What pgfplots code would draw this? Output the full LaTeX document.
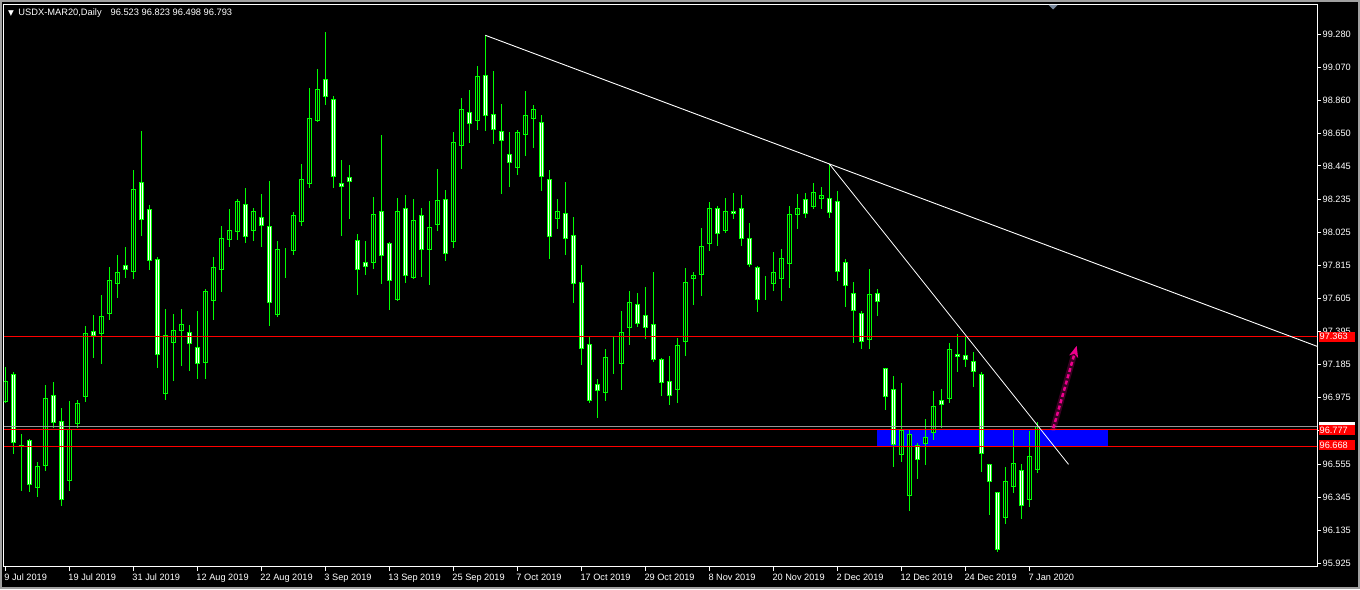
\documentclass[border=0pt]{standalone}
\usepackage{pgfplots}
\pgfplotsset{compat=1.18}
\usepackage{pgfplotstable}
\usepackage{fontspec}
\setmainfont{Liberation Sans}
\newfontfamily\dejavu{DejaVu Sans}
\usetikzlibrary{arrows.meta}
\definecolor{mtgreen}{RGB}{0,255,0}
\definecolor{mtgray}{RGB}{160,160,160}
\definecolor{bidgray}{RGB}{150,150,150}
\definecolor{shiftgray}{RGB}{120,135,155}

\pgfplotstableread{
i o h l c
0 96.950 97.171 96.942 97.077
1 97.120 97.137 96.617 96.693
2 96.673 96.746 96.386 96.666
3 96.703 96.714 96.380 96.427
4 96.408 96.570 96.348 96.541
5 96.547 97.056 96.513 96.972
6 96.991 97.075 96.782 96.820
7 96.824 96.910 96.291 96.331
8 96.449 96.955 96.386 96.771
9 96.811 96.961 96.782 96.940
10 96.982 97.431 96.950 97.384
11 97.397 97.500 97.229 97.369
12 97.382 97.627 97.191 97.492
13 97.511 97.805 97.469 97.720
14 97.699 97.881 97.610 97.771
15 97.815 97.932 97.737 97.790
16 97.775 98.420 97.731 98.297
17 98.342 98.667 98.003 98.107
18 98.171 98.198 97.786 97.847
19 97.854 97.868 97.166 97.251
20 97.004 97.538 96.963 97.372
21 97.325 97.507 97.084 97.403
22 97.401 97.538 97.179 97.441
23 97.391 97.437 97.147 97.321
24 97.295 97.526 97.096 97.194
25 97.200 97.665 97.096 97.651
26 97.594 97.868 97.471 97.803
27 97.790 98.065 97.648 97.987
28 97.980 98.173 97.933 98.037
29 98.031 98.236 97.978 98.221
30 98.202 98.306 97.959 97.999
31 98.037 98.179 97.972 98.158
32 98.120 98.268 97.933 98.069
33 98.063 98.350 97.432 97.581
34 97.505 97.970 97.490 97.917
35 97.895 97.925 97.737 97.895
36 97.911 98.154 97.883 98.133
37 98.095 98.458 98.067 98.361
38 98.336 98.938 98.308 98.748
39 98.733 99.060 98.726 98.932
40 98.995 99.295 98.832 98.885
41 98.868 98.889 98.308 98.379
42 98.336 98.483 98.003 98.317
43 98.374 98.452 98.111 98.348
44 97.974 98.014 97.627 97.790
45 97.835 97.970 97.754 97.807
46 97.835 98.249 97.794 98.139
47 98.158 98.642 97.699 97.879
48 97.955 97.963 97.534 97.720
49 97.600 98.242 97.591 98.158
50 98.177 98.261 97.705 97.752
51 97.739 98.236 97.731 98.101
52 98.133 98.179 97.743 97.917
53 97.917 98.223 97.692 98.056
54 98.075 98.426 98.035 98.228
55 98.234 98.293 97.845 97.892
56 97.968 98.661 97.927 98.596
57 98.577 98.877 98.428 98.805
58 98.786 98.927 98.593 98.716
59 98.735 99.079 98.675 99.014
60 99.020 99.274 98.669 98.767
61 98.773 99.048 98.587 98.678
62 98.665 98.838 98.270 98.608
63 98.519 98.661 98.314 98.469
64 98.437 98.674 98.390 98.659
65 98.646 98.921 98.511 98.767
66 98.748 98.832 98.561 98.805
67 98.722 98.767 98.289 98.380
68 98.361 98.418 97.857 97.999
69 98.114 98.234 98.048 98.158
70 98.145 98.342 97.883 97.987
71 98.006 98.120 97.578 97.701
72 97.708 97.815 97.185 97.289
73 97.314 97.365 96.944 96.959
74 97.061 97.094 96.849 97.023
75 97.010 97.283 96.957 97.232
76 97.213 97.365 97.128 97.213
77 97.194 97.524 97.027 97.391
78 97.422 97.651 97.312 97.581
79 97.568 97.638 97.422 97.448
80 97.498 97.678 97.350 97.422
81 97.441 97.771 97.200 97.219
82 97.219 97.225 96.989 97.073
83 97.080 97.240 96.931 96.991
84 97.029 97.354 96.944 97.308
85 97.334 97.798 97.242 97.708
86 97.733 97.771 97.566 97.752
87 97.756 98.050 97.623 97.936
88 97.955 98.215 97.908 98.177
89 98.177 98.190 97.940 98.018
90 98.035 98.240 98.022 98.158
91 98.158 98.272 98.107 98.145
92 98.177 98.259 97.940 97.987
93 97.987 98.082 97.803 97.822
94 97.803 97.809 97.521 97.600
95 97.680 97.746 97.597 97.680
96 97.701 97.898 97.654 97.771
97 97.733 97.917 97.591 97.860
98 97.828 98.190 97.673 98.139
99 98.139 98.266 98.048 98.177
100 98.234 98.272 98.117 98.145
101 98.190 98.336 98.171 98.278
102 98.240 98.310 98.171 98.259
103 98.240 98.458 98.117 98.152
104 98.221 98.285 97.718 97.777
105 97.835 97.854 97.553 97.689
106 97.638 97.708 97.325 97.530
107 97.511 97.524 97.287 97.334
108 97.346 97.790 97.287 97.632
109 97.638 97.663 97.496 97.587
110 97.162 97.165 96.898 96.982
111 97.029 97.113 96.538 96.680
112 96.614 97.069 96.570 96.769
113 96.357 96.769 96.259 96.744
114 96.671 96.687 96.462 96.585
115 96.687 96.841 96.551 96.725
116 96.756 97.020 96.708 96.921
117 96.959 97.029 96.782 96.934
118 96.972 97.321 96.944 97.283
119 97.251 97.380 97.141 97.238
120 97.245 97.359 97.169 97.219
121 97.207 97.266 97.046 97.143
122 97.124 97.137 96.507 96.623
123 96.553 96.556 96.234 96.446
124 96.376 96.379 95.995 96.014
125 96.217 96.536 96.173 96.446
126 96.414 96.771 96.370 96.560
127 96.515 96.553 96.205 96.293
128 96.331 96.765 96.281 96.604
129 96.523 96.823 96.498 96.793
}\candles

\pgfplotsset{
  mtbase/.style={
    at={(4pt,22pt)}, anchor=south west, scale only axis,
    width=1313pt, height=562pt,
    xmin=-0.16, xmax=163.96, ymin=95.902, ymax=99.466,
  }
}

\begin{document}
\fontsize{9}{10}\selectfont
\begin{tikzpicture}[x=1pt,y=1pt]
\useasboundingbox (0,0) rectangle (1360,589);
\fill[black] (0,0) rectangle (1360,589);
\draw[mtgray, line width=2pt] (1,1) rectangle (1359,588);

% background axis: frame, ticks, blue zone
\begin{axis}[mtbase,
  axis line style={white, line width=1pt},
  tick style={white, line width=1pt},
  tick align=outside, major tick length=4pt,
  xtick pos=left, ytick pos=right,
  xticklabel pos=left, yticklabel pos=right,
  xtick={0,8,...,128},
  xticklabels={9 Jul 2019, 19 Jul 2019, 31 Jul 2019, 12 Aug 2019, 22 Aug 2019, 3 Sep 2019, 13 Sep 2019, 25 Sep 2019, 7 Oct 2019, 17 Oct 2019, 29 Oct 2019, 8 Nov 2019, 20 Nov 2019, 2 Dec 2019, 12 Dec 2019, 24 Dec 2019, 7 Jan 2020},
  ytick={99.280,99.070,98.860,98.650,98.445,98.235,98.025,97.815,97.605,97.395,97.185,96.975,96.765,96.555,96.345,96.135,95.925},
  yticklabels={99.280,99.070,98.860,98.650,98.445,98.235,98.025,97.815,97.605,97.395,97.185,96.975,96.765,96.555,96.345,96.135,95.925},
  ticklabel style={font=\fontsize{9.2}{10}\selectfont, text=white, inner sep=0pt},
  xticklabel style={anchor=north west, xshift=-1pt, yshift=-3pt},
  yticklabel style={anchor=west, xshift=1.5pt},
]
\addplot[fill=blue, draw=none] coordinates {(108.96,96.668) (137.8,96.668) (137.8,96.777) (108.96,96.777)} -- cycle;
\end{axis}

% candles
\begin{axis}[mtbase, hide axis, ybar stacked, bar width=0.55]
\addplot[draw=none, fill=none,
  error bars/.cd, y dir=both, y explicit, error mark=none,
  error bar style={draw=mtgreen, line width=1pt, solid}]
  table[x=i, y expr={min(\thisrow{o},\thisrow{c})},
        y error plus expr={\thisrow{h}-min(\thisrow{o},\thisrow{c})},
        y error minus expr={min(\thisrow{o},\thisrow{c})-\thisrow{l}}] {\candles};
\addplot[draw=mtgreen, fill=white, line width=1pt]
  table[x=i, y expr={max(\thisrow{o}-\thisrow{c},0)}] {\candles};
\addplot[draw=mtgreen, fill=black, line width=1pt]
  table[x=i, y expr={max(\thisrow{c}-\thisrow{o},0)}] {\candles};
\end{axis}

% overlays: lines, trend lines, arrow, price labels
\begin{axis}[mtbase, hide axis, clip mode=individual]
\addplot[bidgray, line width=1pt] coordinates {(-1,96.790) (170,96.790)};
\addplot[red, line width=1pt] coordinates {(-1,97.363) (170,97.363)};
\addplot[red, line width=1pt] coordinates {(-1,96.777) (170,96.777)};
\addplot[red, line width=1pt] coordinates {(-1,96.668) (170,96.668)};
\addplot[white, line width=0.9pt] coordinates {(60,99.274) (170,97.187)};
\addplot[white, line width=0.8pt] coordinates {(103,98.458) (132.9,96.553)};
\addplot[magenta, line width=6pt, opacity=0.25, line cap=round] coordinates {(131,96.782) (133.6,97.250)};
\addplot[magenta, line width=2.5pt, dash pattern=on 4pt off 2.5pt, -{Stealth[length=11pt,width=9pt,inset=3pt]}] coordinates {(131,96.782) (133.92,97.304)};
\node[fill=red, text=white, anchor=west, xshift=1.5pt, inner xsep=1pt, inner ysep=0pt, minimum height=10pt, text width=34.5pt, align=left, font=\fontsize{9.2}{10}\selectfont] at (axis cs:163.96,97.363) {97.363};
\node[fill=white, anchor=west, xshift=1.5pt, inner xsep=1pt, inner ysep=0pt, minimum height=10pt, text width=34.5pt] at (axis cs:163.96,96.790) {};
\node[fill=red, text=white, anchor=west, xshift=1.5pt, inner xsep=1pt, inner ysep=0pt, minimum height=10pt, text width=34.5pt, align=left, font=\fontsize{9.2}{10}\selectfont] at (axis cs:163.96,96.770) {96.777};
\node[fill=red, text=white, anchor=west, xshift=1.5pt, inner xsep=1pt, inner ysep=0pt, minimum height=10pt, text width=34.5pt, align=left, font=\fontsize{9.2}{10}\selectfont] at (axis cs:163.96,96.674) {96.668};
\end{axis}

% title and shift marker
\node[anchor=west, text=white, inner sep=0pt, font=\fontsize{9.3}{10}\selectfont] at (8,576) {{\dejavu\fontsize{7.5}{8}\selectfont ▼}\hspace{4.5pt}USDX-MAR20,Daily\hspace{9pt}96.523 96.823 96.498 96.793};
\fill[shiftgray] (1048.5,584) -- (1057.5,584) -- (1053,579.5) -- cycle;
\end{tikzpicture}
\end{document}
